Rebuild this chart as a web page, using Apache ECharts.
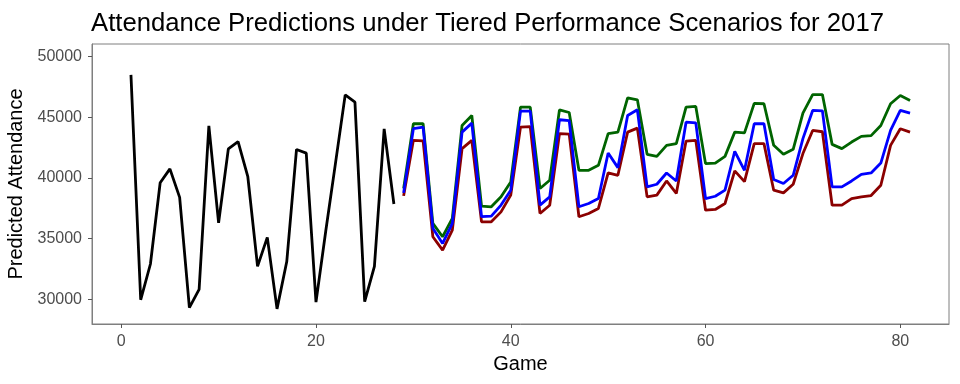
<!DOCTYPE html>
<html>
<head>
<meta charset="utf-8">
<script src="https://cdn.jsdelivr.net/npm/echarts@6/dist/echarts.min.js"></script>
<style>
html,body{margin:0;padding:0;background:#fff;}
#chart{width:960px;height:384px;}
</style>
</head>
<body>
<div id="chart"></div>
<script>
// Observed attendance, games 1..28
var actualStartGame = 1;
var actualValues = [48500, 29950, 32900, 39600, 40750, 38400, 29300, 30800, 44300, 36300,
  42400, 43000, 40100, 32700, 35100, 29200, 33100, 42350, 42050, 29750,
  35600, 41200, 46850, 46250, 29800, 32700, 44050, 37850];

// Predictions, games 29..81
var predStartGame = 29;
var highValues = [39130, 44470, 44470, 36250, 35150, 36660, 44330, 45150, 37670, 37620,
  38440, 39670, 45840, 45840, 39130, 39810, 45620, 45400, 40630, 40630,
  41040, 43650, 43780, 46610, 46450, 41950, 41780, 42690, 42830, 45840,
  45900, 41180, 41220, 41780, 43780, 43720, 46150, 46120, 42690, 41950,
  42360, 45350, 46880, 46880, 42770, 42420, 42960, 43430, 43490, 44330,
  46120, 46800, 46390];
var midValues = [38770, 44060, 44200, 35840, 34600, 36250, 43780, 44520, 36800, 36850,
  37760, 38990, 45510, 45510, 37760, 38440, 44800, 44730, 37620, 37890,
  38300, 42060, 40850, 45150, 45620, 39260, 39480, 40410, 39750, 44600,
  44540, 38300, 38490, 38990, 42200, 40630, 44470, 44470, 39870, 39540,
  40220, 43240, 45570, 45540, 39260, 39260, 39750, 40300, 40410, 41230,
  43920, 45570, 45350];
var lowValues = [38520, 43100, 43050, 35150, 34050, 35700, 42420, 43100, 36380, 36380,
  37200, 38580, 44190, 44230, 37070, 37750, 43650, 43620, 36800, 37070,
  37480, 40410, 40220, 43780, 44110, 38440, 38580, 39750, 38720, 43040,
  43100, 37340, 37400, 37890, 40580, 39700, 42830, 42830, 38990, 38770,
  39480, 42010, 43920, 43810, 37750, 37750, 38300, 38440, 38550, 39400,
  42690, 44060, 43780];

var xTicks = [0, 20, 40, 60, 80];
var yTicks = [30000, 35000, 40000, 45000, 50000];

function pairs(start, vals) {
  return vals.map(function (v, i) { return [start + i, v]; });
}

var chart = echarts.init(document.getElementById('chart'), null, {renderer: 'canvas'});
var font = 'Liberation Sans, Arial, sans-serif';
function line(name, color, data, z) {
  return {
    name: name, type: 'line', data: data, showSymbol: false, symbol: 'none',
    lineStyle: {color: color, width: 2.8}, z: z, animation: false
  };
}
chart.setOption({
  animation: false,
  title: {
    text: 'Attendance Predictions under Tiered Performance Scenarios for 2017',
    left: 86, top: 6,
    textStyle: {fontFamily: font, fontSize: 25.7, fontWeight: 'normal', color: '#000'}
  },
  grid: {left: 92, right: 11, top: 44, bottom: 60, show: true, borderColor: '#7f7f7f', borderWidth: 1,
    backgroundColor: 'transparent', containLabel: false, outerBoundsMode: 'none'},
  xAxis: {
    type: 'value', min: -3, max: 85,
    name: 'Game', nameLocation: 'middle', nameGap: 30,
    nameTextStyle: {fontFamily: font, fontSize: 20, color: '#000'},
    axisLine: {show: true, onZero: false, lineStyle: {color: '#7f7f7f', width: 1}},
    axisTick: {show: true, inside: false, length: 4, lineStyle: {color: '#555555', width: 1}, customValues: xTicks},
    axisLabel: {fontFamily: font, fontSize: 16, color: '#4d4d4d', margin: 10, customValues: xTicks,
      formatter: function (v) { return String(v); }},
    splitLine: {show: false}
  },
  yAxis: {
    type: 'value', min: 27950, max: 51050,
    name: 'Predicted Attendance', nameLocation: 'middle', nameGap: 57,
    nameTextStyle: {fontFamily: font, fontSize: 20, color: '#000'},
    axisLine: {show: true, onZero: false, lineStyle: {color: '#7f7f7f', width: 1}},
    axisTick: {show: true, inside: false, length: 4, lineStyle: {color: '#555555', width: 1}, customValues: yTicks},
    axisLabel: {fontFamily: font, fontSize: 16, color: '#4d4d4d', margin: 10, customValues: yTicks,
      formatter: function (v) { return String(v); }},
    splitLine: {show: false}
  },
  series: [
    line('Actual', '#000000', pairs(actualStartGame, actualValues), 2),
    line('High', '#006400', pairs(predStartGame, highValues), 3),
    line('Low', '#8b0000', pairs(predStartGame, lowValues), 4),
    line('Mid', '#0000ff', pairs(predStartGame, midValues), 5)
  ]
});
</script>
</body>
</html>
